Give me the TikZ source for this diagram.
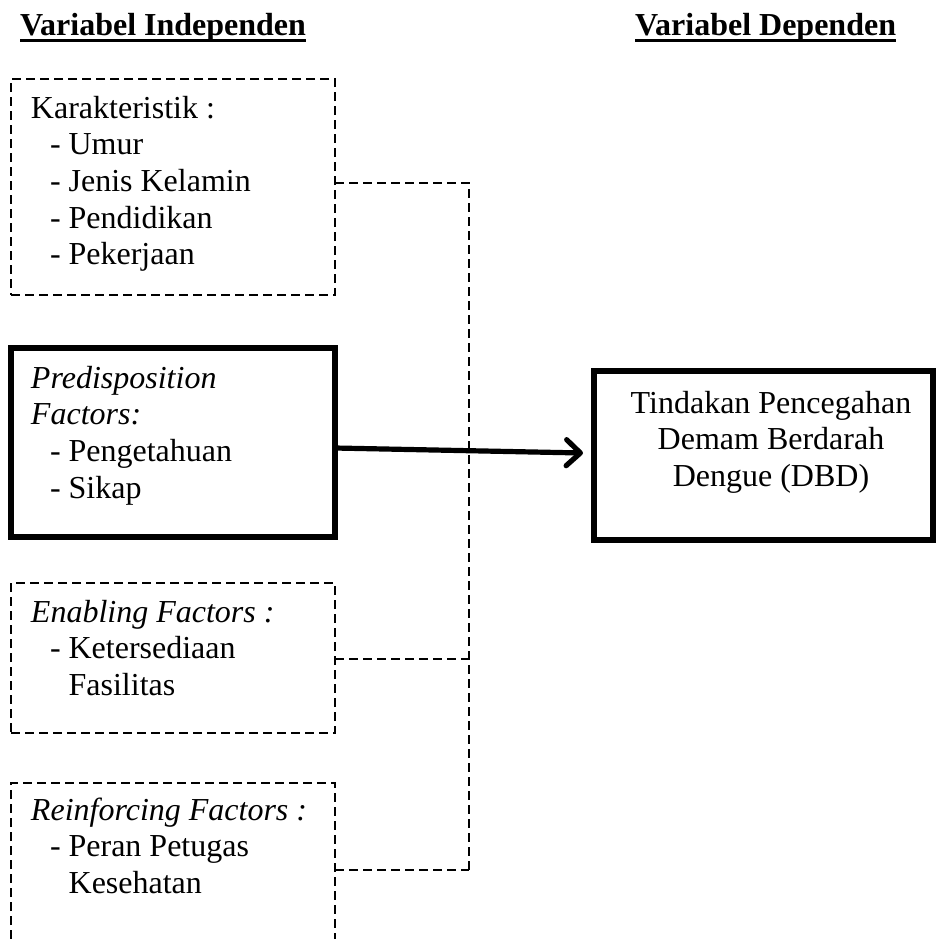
\documentclass[tikz,border=0pt]{standalone}
\usepackage{fontspec}
\setmainfont{Liberation Serif}
\usetikzlibrary{arrows.meta}
\tikzset{
  dbox/.style={draw, rectangle, dash pattern=on 4.5pt off 2.5pt, line width=0.9pt, inner sep=0pt, outer sep=0pt},
  sbox/.style={draw, rectangle, line width=3pt, inner sep=0pt, outer sep=0pt},
  hbox/.style={rectangle, inner sep=0pt, outer sep=0pt},
  link/.style={dash pattern=on 4.5pt off 2.5pt, line width=0.9pt},
  bigarrow/.style={line width=2.6pt, -{Straight Barb[length=7pt,width=13pt,round]}},
  txt/.style={inner sep=0pt, outer sep=0pt, anchor=base west, font=\fontsize{16}{18.35}\selectfont},
  head/.style={inner sep=0pt, outer sep=0pt, anchor=base west, font=\fontsize{16}{18.35}\selectfont\bfseries},
  uline/.style={line width=1.3pt}
}
\begin{document}
\begin{tikzpicture}[x=0.5pt,y=-0.5pt]
\useasboundingbox (0,0) rectangle (937,939);
\fill[white] (0,0) rectangle (937,939);
% headings
\node[head] (h1) at (20,35) {Variabel Independen};
\node[head] (h2) at (635,35) {Variabel Dependen};
\draw[uline] ([yshift=-2.6pt]h1.base west) -- ([yshift=-2.6pt]h1.base east);
\draw[uline] ([yshift=-2.6pt]h2.base west) -- ([yshift=-2.6pt]h2.base east);
% boxes
\node[dbox, minimum width=162pt, minimum height=108pt] (k) at (173,187) {};
\node[sbox, minimum width=162pt, minimum height=94.5pt] (b) at (173,442.5) {};
\node[dbox, minimum width=162pt, minimum height=75pt] (e) at (173,658) {};
\node[hbox, minimum width=162pt, minimum height=78pt] (r) at (173,861) {};
\draw[link] (r.south west) -- (r.north west) -- (r.north east) -- (r.south east);
\node[sbox, minimum width=169.5pt, minimum height=84.5pt] (t) at (763.5,455.5) {};
% texts
\node[txt] (kt) at (31,118) {\begin{tabular}[t]{@{}l@{}}Karakteristik :\\
\hspace*{9.5pt}- Umur\\
\hspace*{9.5pt}- Jenis Kelamin\\
\hspace*{9.5pt}- Pendidikan\\
\hspace*{9.5pt}- Pekerjaan\end{tabular}};
\node[txt] (bt) at (31,388) {\begin{tabular}[t]{@{}l@{}}\textit{Predisposition}\\
\textit{Factors:}\\
\hspace*{9.5pt}- Pengetahuan\\
\hspace*{9.5pt}- Sikap\end{tabular}};
\node[txt] (et) at (31,622) {\begin{tabular}[t]{@{}l@{}}\textit{Enabling Factors :}\\
\hspace*{9.5pt}- Ketersediaan\\
\hspace*{9.5pt}\phantom{- }Fasilitas\end{tabular}};
\node[txt] (rt) at (31,820) {\begin{tabular}[t]{@{}l@{}}\textit{Reinforcing Factors :}\\
\hspace*{9.5pt}- Peran Petugas\\
\hspace*{9.5pt}\phantom{- }Kesehatan\end{tabular}};
\node[txt, anchor=base] (tt) at (771,413) {\begin{tabular}[t]{@{}c@{}}Tindakan Pencegahan\\
Demam Berdarah\\
Dengue (DBD)\end{tabular}};
% connectors
\coordinate (j1) at (469,183);
\coordinate (j3) at (469,659);
\coordinate (j4) at (469,870);
\draw[link] (k.east |- j1) -- (j1) -- (j4);
\draw[link] (e.east |- j3) -- (j3);
\draw[link] (r.east |- j4) -- (j4);
\coordinate (a1) at (335,448);
\coordinate (a2) at (583,453);
\draw[bigarrow] (b.east |- a1) -- (a2);
\end{tikzpicture}
\end{document}
